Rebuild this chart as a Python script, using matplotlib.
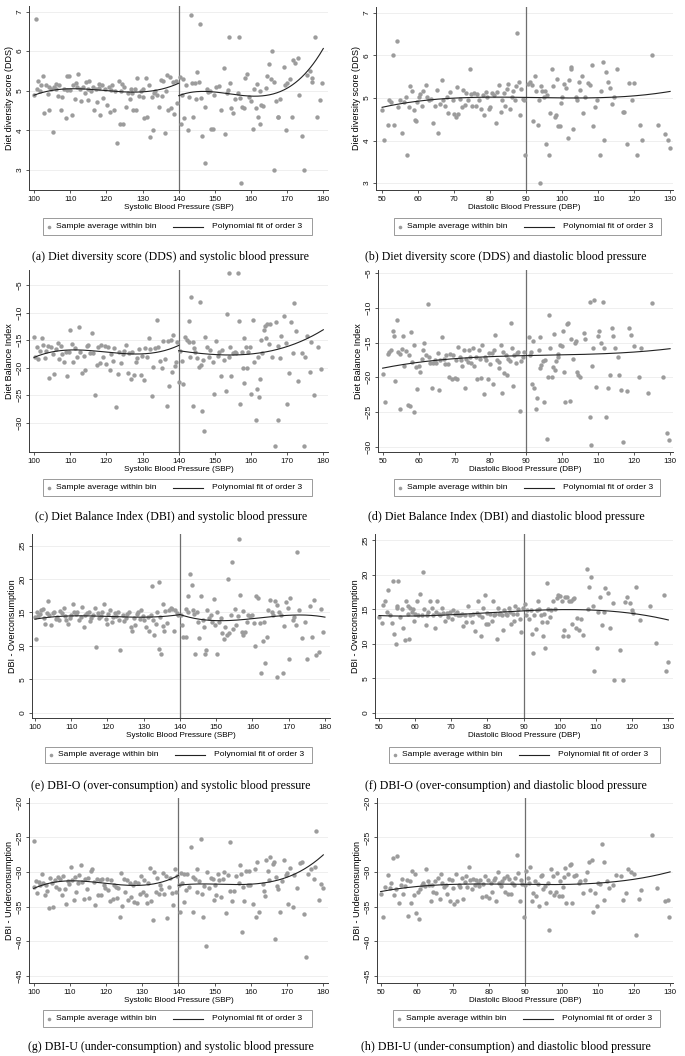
import numpy as np
import matplotlib
matplotlib.use("Agg")
import matplotlib.pyplot as plt
from matplotlib.lines import Line2D
from matplotlib.patches import Rectangle

plt.rcParams['font.family'] = ['Liberation Sans', 'DejaVu Sans']

# ---- bin averages: (blood pressure bin, outcome) ----
dds_sbp = [
    (100.0,4.90),(100.4,6.80),(100.8,5.05),(101.2,5.25),(101.6,5.00),(102.0,5.15),(102.5,5.37),(102.8,4.43),
    (103.4,5.15),(103.8,4.92),(104.0,5.10),(104.2,4.50),(104.6,5.05),(105.2,3.95),(105.6,5.10),(106.0,5.17),
    (106.2,5.05),(106.5,4.87),(107.0,5.15),(107.4,4.52),(107.8,4.85),(108.3,5.05),(108.7,4.32),(109.0,5.02),
    (109.2,5.38),(109.6,5.37),(110.0,5.02),(110.4,4.38),(110.8,5.15),(111.2,4.80),(111.7,5.20),(112.0,5.10),
    (112.2,5.42),(112.6,5.05),(113.0,4.75),(113.5,5.10),(114.0,4.95),(114.4,5.22),(114.8,4.77),(115.0,5.05),
    (115.3,5.25),(115.8,5.00),(116.2,5.10),(116.6,4.52),(117.0,5.05),(117.5,4.72),(117.9,5.17),(118.0,5.08),
    (118.3,4.38),(118.8,5.15),(119.2,4.82),(119.7,5.05),(120.1,4.65),(120.6,5.10),(121.0,4.45),(121.2,5.02),
    (121.5,5.15),(122.0,4.50),(122.4,5.00),(123.0,3.67),(123.4,5.25),(123.8,4.15),(124.0,4.98),(124.2,5.18),
    (124.6,4.17),(125.0,5.10),(125.5,4.60),(126.0,4.93),(126.4,4.80),(126.9,5.05),(127.0,4.95),(127.3,4.50),
    (127.8,5.05),(128.2,4.52),(128.6,5.32),(129.0,4.87),(129.5,5.00),(130.0,4.85),(130.2,5.05),(130.4,4.32),
    (130.9,5.32),(131.3,4.33),(131.8,5.15),(132.1,3.82),(132.5,4.83),(133.0,4.00),(133.2,4.95),(133.5,5.00),
    (134.0,4.90),(134.5,4.60),(135.0,5.27),(135.4,4.87),(135.8,5.25),(136.2,3.93),(136.5,5.00),(136.7,5.40),
    (137.1,4.52),(137.6,5.35),(138.0,4.55),(138.4,5.22),(138.8,4.42),(139.2,5.25),(139.6,4.68),
    (140.4,5.35),(140.6,4.15),(140.9,4.90),(141.2,5.30),(141.6,4.30),(142.1,5.15),(142.5,4.00),(142.8,4.85),
    (143.4,6.90),(143.8,5.20),(144.0,4.33),(144.4,5.20),(144.8,4.80),(145.1,5.48),(145.5,5.22),(146.0,6.68),
    (146.3,4.82),(146.5,3.85),(147.3,3.18),(147.4,4.60),(147.8,5.05),(148.2,4.97),(148.6,5.00),(148.9,4.02),
    (149.4,4.02),(149.7,4.88),(150.4,5.10),(151.1,5.12),(151.7,4.52),(152.4,5.57),(152.9,3.90),(153.4,4.95),
    (153.6,5.02),(154.0,6.35),(154.3,5.20),(154.6,4.55),(155.0,4.43),(155.7,4.78),(156.3,4.95),(156.6,6.35),
    (156.9,4.82),(157.3,2.67),(157.5,4.60),(158.0,4.55),(158.4,5.32),(158.9,5.43),(159.4,4.83),(160.0,4.75),
    (160.5,4.02),(160.9,5.05),(161.4,4.57),(161.7,5.18),(161.9,4.33),(162.4,4.17),(162.6,5.00),(162.9,4.65),
    (163.2,4.62),(164.1,5.06),(164.4,5.38),(164.9,5.67),(165.5,5.30),(165.8,6.00),(166.3,5.22),(166.5,3.00),
    (166.9,4.73),(167.4,4.33),(167.6,4.33),(168.1,4.78),(169.0,5.60),(169.5,5.15),(169.7,4.00),(170.0,5.20),
    (170.7,5.30),(171.3,4.33),(171.5,5.78),(172.1,5.70),(173.0,5.82),(173.4,4.90),(174.1,3.85),(174.7,3.00),
    (175.5,5.40),(176.4,5.50),(176.8,5.33),(177.0,5.22),(177.6,6.35),(178.2,4.33),(179.0,4.77),(179.6,5.20),
]

dds_dbp = [
    (50.0,4.71),(50.6,4.01),(51.5,4.36),(51.9,4.96),(52.4,4.90),(52.9,6.01),(53.3,4.37),(54.0,6.34),
    (54.4,4.79),(54.9,4.94),(55.4,4.18),(56.0,4.90),(56.6,5.03),(57.0,3.66),(57.4,4.79),(57.7,5.27),
    (58.2,5.17),(58.8,4.71),(59.1,4.49),(59.5,4.45),(59.8,4.90),(60.2,5.02),(60.5,5.10),(61.0,4.80),
    (61.4,5.17),(62.1,5.29),(62.5,5.02),(63.1,4.94),(63.7,4.98),(64.2,4.41),(64.8,4.80),(65.3,5.19),
    (65.6,4.18),(66.0,4.86),(66.5,5.41),(67.0,4.94),(67.5,4.80),(67.9,5.03),(68.4,4.65),(68.8,5.14),
    (69.6,4.94),(69.9,4.61),(70.5,4.55),(70.7,5.25),(71.1,4.61),(71.6,4.98),(72.2,4.79),(72.5,5.19),
    (73.0,4.83),(73.4,5.11),(73.9,4.94),(74.4,5.68),(74.8,5.10),(75.1,4.80),(75.6,5.11),(76.0,4.80),
    (76.4,5.10),(77.0,4.94),(77.4,4.75),(77.9,5.07),(78.4,4.59),(78.8,5.14),(79.2,5.02),(79.7,4.75),
    (80.1,4.79),(80.6,5.11),(81.0,5.06),(81.6,4.40),(82.0,5.14),(82.4,5.29),(83.0,4.67),(83.4,4.94),
    (83.8,5.11),(84.1,4.80),(84.6,5.21),(85.0,5.33),(85.5,4.75),(86.0,5.02),(86.4,5.17),(86.9,4.94),
    (87.2,5.27),(87.6,6.51),(88.1,5.37),(88.3,4.59),(88.7,5.21),(89.2,4.98),(89.5,4.94),(89.7,3.66),
    (90.6,5.33),(91.1,5.37),(91.5,5.29),(92.0,4.45),(92.4,5.52),(92.8,5.16),(93.2,4.36),(93.6,4.94),
    (93.8,3.00),(94.1,5.27),(94.5,5.17),(95.0,5.02),(95.2,5.17),(95.5,3.93),(95.9,5.06),(96.3,3.66),
    (96.6,4.65),(97.1,5.68),(97.5,5.27),(98.0,4.55),(98.3,4.59),(98.7,5.45),(98.9,4.34),(99.4,4.34),
    (99.7,4.88),(100.1,5.02),(100.5,5.33),(101.0,5.23),(101.5,4.06),(102.0,5.42),(102.4,5.68),(102.6,5.72),
    (103.1,4.28),(103.8,5.02),(104.2,4.94),(104.8,5.37),(105.1,5.19),(105.6,5.52),(105.9,4.65),(106.3,5.02),
    (107.1,5.35),(107.7,5.29),(108.4,5.76),(108.7,4.34),(109.1,4.79),(109.8,4.94),(110.5,3.66),(110.8,5.16),
    (111.4,5.85),(111.7,4.01),(112.1,5.60),(112.7,5.37),(113.3,5.23),(113.8,4.86),(114.4,5.02),(115.2,5.68),
    (116.8,4.67),(117.2,4.67),(117.9,3.93),(118.7,5.35),(119.3,4.94),(120.0,5.35),(120.7,3.66),(121.5,4.36),
    (122.1,4.01),(124.9,6.01),(126.7,4.36),(128.6,4.16),(129.3,4.01),(130.0,3.83),
]

dbi_sbp = [
    (100.0,-14.5),(100.3,-18.0),(100.8,-16.3),(101.2,-18.4),(101.6,-16.9),(102.1,-14.7),(102.5,-15.9),(102.9,-18.2),
    (103.4,-17.0),(103.8,-16.0),(104.2,-21.9),(104.7,-16.2),(105.1,-17.5),(105.6,-21.2),(106.0,-16.6),(106.5,-15.6),
    (106.9,-18.4),(107.4,-16.0),(107.8,-17.5),(108.3,-18.9),(108.7,-17.2),(109.1,-21.5),(109.6,-17.1),(110.0,-13.1),
    (110.5,-15.7),(110.9,-19.0),(111.3,-16.5),(111.8,-18.0),(112.4,-12.6),(112.8,-17.2),(113.3,-21.0),(113.7,-17.8),
    (114.2,-20.4),(114.6,-16.0),(115.0,-15.9),(115.5,-17.4),(116.0,-13.8),(116.4,-17.3),(116.8,-25.0),(117.3,-19.5),
    (117.7,-16.2),(118.2,-19.2),(118.6,-15.9),(119.1,-18.0),(119.5,-16.1),(120.0,-19.3),(120.4,-16.2),(120.9,-20.4),
    (121.3,-17.5),(121.8,-18.7),(122.2,-16.4),(122.8,-27.1),(123.2,-21.2),(123.6,-17.2),(124.1,-19.2),(124.5,-17.6),
    (125.0,-16.9),(125.4,-15.8),(125.9,-21.0),(126.3,-17.3),(126.8,-22.0),(127.2,-17.1),(127.7,-21.4),(128.1,-18.9),
    (128.6,-18.2),(129.0,-16.6),(129.5,-21.3),(129.9,-17.8),(130.4,-22.3),(130.8,-16.5),(131.3,-18.0),(131.7,-14.6),
    (132.1,-16.7),(132.6,-25.2),(133.0,-19.8),(133.5,-16.4),(134.0,-11.3),(134.4,-16.2),(134.8,-18.7),(135.3,-20.1),
    (135.8,-15.1),(136.2,-18.5),(136.7,-27.0),(137.0,-15.2),(137.4,-23.4),(137.8,-15.0),(138.2,-20.8),(138.5,-14.1),
    (138.9,-19.7),(139.3,-18.9),(139.6,-15.3),
    (140.1,-22.6),(140.5,-16.9),(140.9,-18.7),(141.2,-22.9),(141.8,-14.5),(142.3,-15.0),(142.8,-15.3),(142.9,-11.5),
    (143.0,-18.0),(143.4,-7.1),(143.9,-15.4),(144.0,-27.0),(144.3,-16.5),(144.6,-17.1),(145.1,-18.3),(145.5,-19.8),
    (145.8,-8.0),(146.2,-19.5),(146.5,-27.8),(146.7,-18.6),(147.1,-31.4),(147.4,-14.5),(147.8,-16.2),(148.3,-18.1),
    (148.8,-16.8),(149.4,-18.9),(149.9,-24.7),(150.4,-15.2),(150.8,-17.9),(151.1,-17.1),(151.7,-21.6),(152.1,-16.8),
    (152.6,-18.6),(153.0,-24.2),(153.5,-10.3),(153.9,-2.9),(154.0,-18.0),(154.3,-16.3),(154.6,-21.6),(155.0,-17.3),
    (155.5,-17.1),(155.9,-17.4),(156.3,-2.9),(156.7,-11.6),(157.0,-26.6),(157.5,-17.2),(157.8,-20.1),(158.0,-14.6),
    (158.2,-22.7),(158.5,-16.3),(158.9,-20.0),(159.2,-17.1),(159.6,-16.3),(160.0,-24.7),(160.5,-11.4),(160.8,-19.0),
    (161.5,-29.5),(161.6,-23.8),(161.9,-18.1),(162.2,-25.3),(162.5,-22.0),(162.8,-15.0),(163.0,-17.4),(163.6,-13.2),
    (163.9,-12.4),(164.2,-14.6),(164.5,-12.0),(164.9,-15.7),(165.3,-12.0),(165.8,-18.0),(166.7,-34.2),(167.0,-11.7),
    (167.4,-16.1),(167.6,-29.5),(167.9,-18.3),(168.3,-14.3),(169.2,-10.6),(169.6,-15.5),(170.0,-26.6),(170.6,-21.0),
    (171.0,-11.8),(171.5,-17.4),(172.0,-8.3),(172.5,-13.3),(173.1,-22.4),(174.2,-17.4),(174.7,-34.2),(175.0,-18.1),
    (175.4,-14.2),(176.2,-20.7),(176.6,-15.3),(177.5,-25.0),(178.4,-16.2),(179.4,-20.2),
]

dbi_dbp = [
    (50.0,-19.5),(50.7,-23.5),(51.5,-16.6),(51.9,-16.3),(52.3,-16.1),(52.9,-13.3),(53.1,-14.0),(53.5,-20.5),
    (54.0,-11.7),(54.4,-16.3),(54.7,-24.5),(54.9,-16.6),(55.4,-15.9),(55.7,-14.1),(56.0,-18.4),(56.6,-16.2),
    (57.0,-24.0),(57.4,-16.8),(57.5,-24.1),(58.0,-13.5),(58.3,-17.8),(58.6,-15.3),(58.8,-25.0),(59.3,-18.5),
    (59.5,-21.7),(60.0,-18.3),(60.5,-19.3),(60.9,-17.3),(61.2,-16.0),(61.6,-15.1),(62.1,-16.8),(62.5,-9.4),
    (62.8,-17.0),(63.3,-18.0),(63.6,-21.6),(64.0,-18.0),(64.5,-17.5),(64.9,-18.0),(65.3,-16.5),(65.7,-21.8),
    (66.0,-17.5),(66.5,-14.2),(67.0,-17.3),(67.4,-18.1),(67.7,-16.8),(68.1,-18.1),(68.4,-19.9),(68.8,-16.6),
    (69.3,-20.3),(69.6,-16.8),(70.0,-20.1),(70.5,-17.5),(70.7,-20.2),(71.1,-15.6),(71.4,-17.0),(71.8,-17.5),
    (72.2,-18.4),(72.5,-16.0),(72.8,-21.5),(73.3,-17.3),(73.7,-17.8),(74.1,-16.0),(74.4,-17.0),(74.7,-18.0),
    (75.0,-15.8),(75.5,-18.4),(76.0,-17.0),(76.2,-20.2),(76.7,-16.0),(77.0,-17.3),(77.3,-20.1),(77.7,-15.3),
    (78.1,-22.4),(78.5,-17.0),(78.8,-17.5),(79.2,-20.2),(79.6,-16.5),(79.9,-18.1),(80.3,-16.5),(80.7,-21.0),
    (81.0,-16.0),(81.3,-13.9),(81.8,-17.5),(82.3,-18.7),(82.5,-17.8),(82.9,-15.3),(83.2,-22.2),(83.5,-16.3),
    (83.8,-19.4),(84.2,-16.8),(84.6,-19.7),(84.9,-17.3),(85.3,-17.6),(85.7,-12.2),(86.0,-15.8),(86.2,-21.3),
    (86.6,-16.8),(87.1,-18.0),(87.3,-16.5),(87.8,-16.4),(88.3,-24.9),(88.6,-17.7),(89.0,-17.1),(89.2,-16.3),
    (90.6,-14.2),(90.9,-16.8),(91.3,-16.4),(91.5,-21.0),(91.8,-14.7),(92.2,-21.6),(92.7,-24.6),(92.9,-23.0),
    (93.4,-16.0),(93.7,-14.2),(93.8,-18.6),(94.2,-18.2),(94.6,-17.7),(95.0,-23.5),(95.2,-17.5),(95.7,-28.9),
    (95.9,-19.9),(96.3,-11.0),(96.6,-15.8),(97.1,-19.9),(97.4,-18.5),(97.7,-13.8),(98.0,-18.9),(98.3,-17.6),
    (98.7,-17.1),(98.9,-16.6),(99.4,-15.4),(99.9,-15.5),(100.3,-13.3),(100.6,-19.2),(100.8,-23.5),(101.3,-12.3),
    (101.5,-12.2),(102.2,-23.4),(102.5,-14.4),(102.9,-17.3),(103.4,-15.0),(103.8,-14.8),(104.2,-19.3),(104.5,-19.7),
    (105.0,-20.0),(105.9,-13.6),(106.4,-14.4),(107.6,-9.2),(107.7,-25.7),(107.9,-29.7),(108.2,-18.3),(108.5,-15.8),
    (108.9,-8.9),(109.4,-21.4),(109.8,-14.1),(110.1,-13.3),(110.8,-15.0),(111.3,-9.1),(111.6,-15.8),(112.1,-25.7),
    (112.8,-21.6),(113.3,-19.6),(113.8,-12.9),(114.2,-14.0),(114.7,-15.8),(115.4,-17.1),(115.9,-19.6),(116.4,-21.8),
    (117.0,-29.3),(118.1,-22.0),(118.6,-12.9),(119.2,-13.9),(120.0,-15.5),(121.2,-20.0),(121.8,-15.7),(123.8,-22.3),
    (124.9,-9.3),(128.1,-20.0),(129.0,-28.0),(129.8,-29.1),
]

dbio_sbp = [
    (100.0,14.3),(100.2,11.1),(100.5,15.1),(100.9,14.5),(101.3,14.8),(101.7,15.3),(102.1,15.5),(102.5,14.1),
    (102.9,13.2),(103.3,14.9),(103.6,16.7),(104.0,14.6),(104.5,13.1),(104.9,14.9),(105.3,15.1),(105.8,14.0),
    (106.2,14.3),(106.6,13.8),(107.0,15.2),(107.4,14.9),(107.9,15.7),(108.3,14.4),(108.7,13.8),(109.1,13.3),
    (109.6,14.1),(110.0,14.6),(110.4,16.2),(110.9,15.1),(111.3,14.8),(111.7,15.0),(112.2,13.9),(112.6,14.3),
    (113.0,15.8),(113.5,12.8),(113.9,14.6),(114.3,14.9),(114.8,15.1),(115.2,13.7),(115.6,14.1),(116.0,14.6),
    (116.5,15.7),(116.9,9.8),(117.3,14.9),(117.7,14.2),(118.2,14.5),(118.6,15.0),(119.0,16.3),(119.5,14.0),
    (119.9,13.2),(120.3,14.8),(120.8,15.3),(121.2,13.6),(121.6,14.3),(122.1,14.9),(122.5,14.4),(122.9,15.0),
    (123.3,13.9),(123.6,9.4),(124.2,14.6),(124.6,13.7),(125.1,14.1),(125.5,14.8),(125.9,15.1),(126.4,12.9),
    (126.8,12.3),(127.2,14.2),(127.7,13.1),(128.1,14.7),(128.5,15.1),(128.9,14.0),(129.4,15.3),(129.8,14.5),
    (130.2,13.9),(130.7,12.8),(131.1,14.3),(131.5,12.3),(132.0,14.6),(132.2,18.9),(132.6,13.8),(132.9,11.7),
    (133.4,13.2),(133.8,15.0),(134.2,19.6),(134.3,9.5),(134.6,14.3),(134.9,8.8),(135.2,13.0),(135.4,16.3),
    (135.6,12.3),(136.0,15.2),(136.5,13.4),(137.0,15.3),(137.5,15.7),(137.9,15.5),(138.3,12.3),(138.7,15.3),
    (139.2,14.9),(139.6,14.6),
    (140.2,14.6),(140.5,13.1),(140.9,11.4),(141.6,11.4),(141.8,15.5),(142.1,17.4),(142.3,15.1),(142.8,20.7),
    (143.2,19.1),(143.5,15.3),(143.9,14.8),(144.1,8.8),(144.6,15.0),(145.1,13.6),(145.3,11.2),(145.8,17.4),
    (146.3,13.8),(146.6,12.9),(146.9,8.8),(147.2,9.4),(147.5,15.4),(148.0,14.1),(148.5,14.6),(148.9,13.6),
    (149.4,17.0),(149.7,13.1),(150.1,8.8),(150.3,15.0),(150.9,13.6),(151.2,14.1),(151.7,11.9),(152.1,11.1),
    (152.4,12.9),(152.9,11.6),(153.3,20.0),(153.6,11.9),(154.0,14.6),(154.3,22.6),(154.7,12.5),(155.2,15.5),
    (155.6,13.1),(156.1,14.5),(156.4,26.0),(156.7,17.6),(157.0,12.1),(157.3,11.6),(157.5,15.2),(157.9,12.1),
    (158.4,13.6),(158.9,14.6),(159.3,14.5),(159.8,14.6),(160.3,13.4),(160.7,10.0),(161.1,17.4),(161.6,17.1),
    (162.0,13.4),(162.3,6.0),(162.8,10.8),(163.1,13.5),(163.4,7.4),(163.9,11.4),(164.3,15.4),(164.8,16.8),
    (165.3,15.0),(165.7,14.6),(166.2,16.7),(166.7,5.4),(166.9,16.1),(167.4,15.0),(167.9,14.6),(168.3,6.0),
    (168.7,13.0),(169.2,16.5),(169.7,15.7),(170.1,8.1),(170.5,17.2),(171.1,13.8),(171.4,14.3),(171.9,13.1),
    (172.4,24.0),(172.9,15.3),(173.6,11.2),(174.5,13.5),(175.1,8.1),(175.9,16.0),(176.5,11.4),(177.1,16.9),
    (177.5,8.7),(178.3,9.1),(178.9,15.5),(179.5,12.1),
]

dbio_dbp = [
    (50.0,13.8),(50.7,13.0),(51.2,15.6),(51.7,16.1),(52.1,14.6),(52.6,17.7),(53.0,14.1),(53.5,13.0),
    (54.0,19.1),(54.2,11.4),(54.6,10.0),(54.9,15.4),(55.1,15.1),(55.3,19.1),(55.8,13.8),(56.3,15.0),
    (56.7,12.3),(57.2,10.5),(57.5,16.2),(57.9,15.4),(58.1,14.3),(58.4,10.7),(58.6,15.1),(59.0,14.6),
    (59.3,15.0),(59.7,13.3),(60.0,14.3),(60.4,16.2),(60.9,14.1),(61.3,17.2),(61.8,14.1),(62.1,20.4),
    (62.4,15.0),(62.9,12.7),(63.4,14.1),(63.6,14.6),(64.1,16.2),(64.6,15.1),(65.0,14.1),(65.5,12.3),
    (65.9,14.6),(66.1,16.2),(66.6,14.3),(66.9,14.2),(67.3,15.1),(67.8,14.4),(68.2,13.3),(68.7,14.5),
    (69.2,13.8),(69.6,14.6),(70.1,13.6),(70.6,14.8),(71.0,14.3),(71.5,14.6),(71.9,14.1),(72.4,14.2),
    (72.9,14.3),(73.3,12.6),(73.8,14.2),(74.2,13.1),(74.7,15.4),(75.2,14.1),(75.6,13.2),(76.1,14.3),
    (76.5,11.8),(77.0,14.5),(77.5,16.1),(77.7,14.1),(78.1,11.1),(78.4,13.8),(78.8,15.1),(79.3,17.1),
    (79.6,12.9),(80.0,14.5),(80.2,12.9),(80.7,14.3),(81.2,13.3),(81.4,16.1),(81.8,14.1),(82.1,14.3),
    (82.5,10.7),(83.0,15.1),(83.3,14.3),(83.6,14.4),(84.1,14.2),(84.4,12.0),(84.7,14.8),(85.1,14.3),
    (85.5,14.2),(85.9,15.1),(86.2,14.6),(86.6,12.9),(87.0,14.3),(87.3,13.3),(87.7,15.4),(88.1,14.3),
    (88.5,15.0),(89.0,13.6),(89.4,11.7),(89.7,15.1),
    (90.4,15.8),(90.6,14.2),(91.0,14.8),(91.6,13.5),(91.9,14.9),(92.3,11.4),(92.7,8.7),(92.9,14.2),
    (93.3,12.1),(93.6,14.9),(94.1,16.2),(94.3,15.0),(94.7,14.2),(95.0,13.2),(95.4,11.1),(95.6,14.3),
    (95.9,9.4),(96.4,13.1),(96.5,18.8),(96.8,15.0),(97.3,13.8),(97.7,14.8),(98.2,16.1),(98.7,15.0),
    (99.1,16.6),(99.6,17.0),(100.0,16.9),(100.5,16.2),(100.8,11.1),(101.2,12.0),(101.4,16.8),(101.9,16.8),
    (102.3,11.1),(102.6,16.2),(103.0,16.2),(103.3,12.9),(103.7,16.5),(104.0,16.6),(104.4,12.2),(104.7,13.7),
    (105.4,12.0),(105.8,13.6),(106.5,11.2),(107.4,20.8),(107.9,15.0),(108.2,18.2),(108.6,19.6),(109.1,15.5),
    (109.4,6.0),(110.2,9.3),(110.6,14.6),(111.1,16.7),(111.8,12.7),(112.3,14.6),(112.5,18.0),(113.2,17.4),
    (113.9,12.3),(114.6,15.9),(115.0,4.8),(116.6,9.1),(117.4,4.8),(118.0,16.0),(118.7,16.7),(119.4,15.9),
    (120.0,14.9),(120.3,14.5),(121.2,18.2),(122.2,13.4),(124.9,15.4),(126.6,10.1),(128.7,17.0),(129.3,6.0),
    (130.0,7.4),
]

dbiu_sbp = [
    (100.0,-32.2),(100.2,-25.5),(100.6,-31.3),(101.0,-33.0),(101.4,-31.4),(101.8,-31.8),(102.2,-30.2),(102.6,-31.5),
    (103.0,-33.3),(103.4,-31.9),(103.8,-32.7),(104.2,-35.2),(104.6,-30.9),(105.0,-31.6),(105.4,-35.0),(105.8,-31.1),
    (106.2,-32.1),(106.6,-30.7),(107.0,-32.4),(107.4,-31.0),(107.8,-33.3),(108.2,-30.6),(108.6,-32.4),(109.0,-34.6),
    (109.4,-31.3),(109.8,-31.7),(110.2,-29.3),(110.6,-31.1),(111.0,-34.0),(111.4,-30.7),(111.8,-32.9),(112.2,-31.6),
    (112.6,-30.4),(113.0,-29.0),(113.4,-31.4),(113.8,-33.9),(114.2,-31.0),(114.6,-32.5),(115.0,-30.9),(115.4,-33.7),
    (115.8,-29.9),(116.2,-29.6),(116.6,-31.4),(117.0,-34.7),(117.4,-31.0),(117.8,-33.3),(118.2,-31.2),(118.6,-33.3),
    (119.0,-31.0),(119.4,-31.8),(119.8,-32.3),(120.2,-31.0),(120.6,-32.6),(121.0,-34.2),(121.4,-31.1),(121.8,-33.9),
    (122.2,-31.8),(122.6,-32.1),(123.0,-33.8),(123.4,-32.3),(123.8,-36.5),(124.1,-30.1),(124.5,-34.9),(124.9,-31.0),
    (125.3,-32.8),(125.7,-31.2),(126.1,-34.0),(126.5,-31.5),(126.9,-33.6),(127.3,-31.8),(127.7,-34.3),(128.1,-31.4),
    (128.5,-34.4),(128.9,-31.6),(129.3,-33.1),(129.7,-30.6),(130.1,-32.9),(130.5,-31.2),(130.9,-33.3),(131.3,-34.5),
    (131.7,-31.6),(132.1,-29.4),(132.5,-34.1),(132.9,-36.9),(133.3,-30.0),(133.7,-32.9),(134.1,-30.8),(134.5,-33.1),
    (134.9,-31.9),(135.3,-32.4),(135.7,-30.1),(136.1,-33.2),(136.5,-30.6),(136.9,-36.6),(137.3,-32.1),(137.7,-30.8),
    (138.1,-33.0),(138.5,-34.8),(138.9,-29.5),(139.3,-32.9),(139.7,-30.6),
    (140.2,-31.8),(140.3,-35.7),(140.6,-30.1),(140.9,-31.5),(141.4,-30.3),(141.6,-34.3),(142.0,-32.6),(142.3,-30.3),
    (142.8,-32.1),(143.4,-26.4),(144.0,-35.7),(144.1,-30.7),(144.6,-31.0),(145.0,-29.5),(145.2,-32.8),(145.7,-31.3),
    (146.2,-25.2),(146.5,-33.1),(146.9,-36.5),(147.1,-32.0),(147.6,-40.6),(148.0,-30.0),(148.5,-32.3),(148.9,-30.8),
    (149.4,-31.0),(149.7,-34.0),(150.0,-31.8),(150.4,-33.3),(150.8,-30.2),(151.3,-31.2),(151.8,-33.6),(152.3,-31.0),
    (152.7,-30.0),(153.1,-35.9),(153.6,-30.4),(154.1,-32.7),(154.3,-25.7),(154.7,-34.2),(155.2,-32.7),(155.9,-30.6),
    (156.6,-31.6),(157.1,-28.9),(157.3,-30.2),(157.5,-38.7),(157.8,-32.2),(158.2,-34.2),(158.7,-29.8),(159.2,-31.9),
    (159.4,-29.8),(159.8,-31.8),(160.5,-34.6),(161.2,-29.6),(161.5,-36.5),(161.8,-28.6),(162.3,-35.7),(163.3,-31.7),
    (163.5,-32.7),(164.0,-33.4),(164.1,-28.2),(164.7,-29.8),(164.9,-31.2),(165.2,-27.8),(166.0,-28.8),(166.3,-28.6),
    (166.6,-39.6),(166.8,-30.7),(167.2,-32.0),(167.6,-32.4),(168.1,-35.7),(168.6,-31.3),(169.2,-28.2),(169.7,-30.4),
    (170.1,-30.1),(170.2,-34.6),(170.9,-29.4),(171.5,-35.0),(172.0,-30.4),(172.7,-32.3),(173.5,-28.7),(174.1,-28.5),
    (174.6,-36.0),(175.2,-42.3),(175.9,-30.3),(176.7,-29.5),(177.3,-31.0),(177.8,-29.3),(178.0,-24.0),(178.7,-34.0),
    (179.4,-31.7),(179.8,-32.3),
]

dbiu_dbp = [
    (50.0,-33.1),(50.6,-36.5),(51.3,-32.2),(52.0,-30.4),(52.5,-32.3),(53.0,-31.5),(53.3,-28.0),(53.8,-33.3),
    (54.2,-32.5),(54.5,-27.7),(55.0,-34.4),(55.5,-31.9),(56.0,-31.0),(56.3,-33.2),(56.7,-32.0),(57.3,-31.1),
    (57.6,-36.4),(58.0,-31.3),(58.4,-34.5),(58.7,-29.8),(59.1,-33.3),(59.5,-30.3),(59.8,-35.9),(60.2,-32.8),
    (60.5,-36.7),(61.0,-32.5),(61.4,-31.8),(61.8,-31.5),(62.2,-32.0),(62.6,-29.6),(63.0,-31.3),(63.4,-31.8),
    (63.8,-34.2),(64.2,-31.9),(64.6,-32.9),(65.0,-31.3),(65.4,-33.0),(65.8,-30.8),(66.3,-33.9),(66.7,-30.2),
    (67.1,-31.5),(67.5,-32.2),(68.0,-31.9),(68.4,-33.2),(68.8,-31.0),(69.2,-34.1),(69.6,-31.2),(70.0,-32.3),
    (70.4,-34.6),(70.8,-30.3),(71.2,-34.2),(71.6,-31.8),(72.0,-32.1),(72.4,-30.9),(72.8,-33.9),(73.2,-31.4),
    (73.6,-30.5),(74.0,-32.2),(74.4,-29.2),(74.8,-31.1),(75.2,-32.4),(75.6,-31.0),(76.0,-31.8),(76.4,-31.2),
    (76.8,-31.5),(77.2,-32.0),(77.6,-31.1),(78.0,-33.6),(78.4,-31.7),(78.8,-30.5),(79.2,-33.4),(79.6,-31.2),
    (80.0,-33.7),(80.4,-31.5),(80.8,-32.9),(81.2,-31.1),(81.6,-30.9),(82.0,-34.2),(82.4,-30.0),(82.8,-31.6),
    (83.2,-32.0),(83.6,-31.3),(84.0,-30.9),(84.4,-32.8),(84.8,-30.6),(85.2,-33.1),(85.6,-31.0),(86.0,-33.2),
    (86.4,-31.5),(86.8,-31.8),(87.2,-30.9),(87.6,-27.5),(88.0,-30.1),(88.4,-34.1),(88.8,-31.2),(89.2,-31.7),
    (89.6,-36.5),(89.8,-31.8),
    (90.3,-29.9),(90.6,-30.9),(91.0,-31.6),(91.4,-29.2),(91.8,-34.1),(92.2,-33.0),(92.6,-31.3),(93.0,-33.4),
    (93.4,-31.7),(93.8,-34.9),(94.2,-30.6),(94.6,-30.4),(95.0,-32.4),(95.4,-32.0),(95.8,-34.4),(96.2,-31.6),
    (96.5,-38.3),(96.8,-32.8),(97.2,-29.6),(97.6,-30.5),(98.0,-33.3),(98.4,-32.9),(98.8,-30.1),(99.2,-33.4),
    (99.6,-31.3),(100.0,-33.5),(100.4,-32.2),(100.8,-30.7),(101.0,-29.4),(101.2,-34.5),(101.7,-30.3),(102.2,-28.9),
    (102.5,-28.8),(103.0,-34.4),(103.5,-30.6),(104.0,-30.4),(104.7,-31.5),(105.1,-31.3),(105.9,-33.0),(106.5,-31.1),
    (107.1,-30.0),(107.7,-28.6),(107.9,-32.6),(108.5,-28.3),(108.8,-35.7),(109.3,-33.0),(109.7,-34.9),(110.2,-31.6),
    (110.6,-31.7),(111.2,-26.0),(111.6,-34.0),(111.8,-28.5),(112.5,-31.3),(113.2,-32.3),(114.3,-31.8),(115.0,-30.4),
    (116.5,-30.6),(117.1,-34.0),(117.7,-33.0),(118.5,-29.6),(119.1,-30.0),(119.9,-30.3),(120.5,-39.1),(121.3,-33.9),
    (122.0,-32.6),(124.9,-24.6),(126.5,-32.3),(128.6,-34.1),(129.3,-34.0),(129.8,-36.5),
]

# ---- values of the drawn order-3 fit lines ----
dds_sbp_fit = [[(100,4.89),(105,5.00),(110,5.05),(115,5.04),(120,5.00),(125,4.97),(130,4.97),(135,5.03),(140,5.19)],
               [(140,4.88),(145,4.96),(150,4.97),(155,4.92),(160,4.86),(165,4.88),(170,5.08),(175,5.42),(180,6.07)]]
dds_dbp_fit = [[(50,4.80),(60,4.90),(70,4.97),(80,5.01),(90,5.03),(100,5.06),(110,5.01),(118,4.96),(125,5.05),(130,5.21)]]
dbi_sbp_fit = [[(100,-18.1),(105,-17.2),(110,-16.8),(115,-16.9),(120,-17.1),(125,-17.4),(130,-17.5),(135,-17.2),(140,-15.9)],
               [(140,-16.9),(145,-17.4),(150,-17.6),(155,-17.7),(160,-17.5),(165,-17.0),(170,-16.2),(175,-14.9),(180,-13.1)]]
dbi_dbp_fit = [[(50,-18.7),(60,-17.8),(70,-17.3),(80,-17.0),(90,-16.9),(100,-16.8),(110,-16.6),(120,-16.3),(130,-15.9)]]
dbio_sbp_fit = [[(100,14.0),(105,14.35),(110,14.45),(120,14.45),(130,14.3),(135,14.35),(140,14.7)],
                [(140,14.7),(145,14.0),(150,13.8),(155,13.85),(160,14.05),(165,14.35),(170,14.6),(175,14.6),(180,14.3)]]
dbio_dbp_fit = [[(50,13.9),(60,14.2),(70,14.35),(80,14.45),(90,14.5),(100,14.7),(110,14.85),(115,14.9),(120,14.6),(125,14.0),(130,13.2)]]
dbiu_sbp_fit = [[(100,-32.3),(105,-31.6),(110,-31.3),(120,-31.5),(130,-31.9),(135,-31.6),(140,-30.4)],
                [(140,-31.9),(150,-31.7),(160,-31.8),(165,-31.4),(170,-30.7),(175,-29.5),(180,-27.5)]]
dbiu_dbp_fit = [[(50,-32.7),(60,-32.2),(70,-31.9),(80,-31.7),(90,-31.6),(100,-31.6),(110,-31.7),(120,-31.3),(130,-29.8)]]

sbp_ticks = [100, 110, 120, 130, 140, 150, 160, 170, 180]
dbp_ticks = [50, 60, 70, 80, 90, 100, 110, 120, 130]

W, H = 685, 1056
fig = plt.figure(figsize=(W / 100, H / 100), dpi=100)

DOT = '#9c9c9c'
INK = '#3a3a3a'
FIT = '#222222'


def px_axes(l, t, r, b):
    return fig.add_axes([l / W, 1 - b / H, (r - l) / W, (b - t) / H])


def draw_legend(l, t, r, b):
    fig.add_artist(Rectangle((l / W, 1 - b / H), (r - l) / W, (b - t) / H,
                             transform=fig.transFigure, fill=False, ec='#8a8a8a', lw=0.6))
    yc = 1 - (t + b) / 2 / H
    fig.add_artist(Line2D([(l + 6) / W], [yc], marker='o', ms=2.6, color=DOT, mec='none',
                          ls='none', transform=fig.transFigure))
    fig.text((l + 13) / W, yc, 'Sample average within bin', va='center', fontsize=6.1)
    fig.add_artist(Line2D([(l + 130) / W, (l + 160) / W], [yc, yc], color=FIT, lw=0.8,
                          transform=fig.transFigure))
    fig.text((l + 169) / W, yc, 'Polynomial fit of order 3', va='center', fontsize=6.1)


def panel(box, data, fits, cut, xticks, xlim, ylim, yticks, ylabel, xlabel,
          leg_box, caption, cap_x, cap_y):
    ax = px_axes(*box)
    pts = np.array(data)
    ax.scatter(pts[:, 0], pts[:, 1], s=10, color=DOT, linewidths=0, zorder=2)

    # cubic fit line(s), one per side of the cut-off where the figure has a break
    for seg in fits:
        f = np.array(seg, dtype=float)
        c = np.polyfit(f[:, 0], f[:, 1], 3)
        xs = np.linspace(f[0, 0], f[-1, 0], 200)
        ax.plot(xs, np.polyval(c, xs), color=FIT, lw=0.8, zorder=3)

    ax.axvline(cut, color='#6e6e6e', lw=0.9, zorder=1)

    ax.set_xlim(*xlim)
    ax.set_ylim(*ylim)
    ax.set_xticks(xticks)
    ax.set_yticks(yticks)
    ax.yaxis.grid(True, color='#ececec', lw=0.6)
    ax.set_axisbelow(True)
    for s in ['top', 'right']:
        ax.spines[s].set_visible(False)
    for s in ['left', 'bottom']:
        ax.spines[s].set_color(INK)
        ax.spines[s].set_linewidth(0.7)
    ax.tick_params(direction='out', length=2.5, width=0.6, color=INK,
                   labelsize=5.7, pad=1.5, labelcolor='#111111')
    ax.tick_params(axis='y', labelsize=6.0)
    for lab in ax.get_yticklabels():
        lab.set_rotation(90)
        lab.set_va('center')
    ax.set_ylabel(ylabel, fontsize=6.5, labelpad=1.5)
    ax.set_xlabel(xlabel, fontsize=5.9, labelpad=1)

    draw_legend(*leg_box)
    fig.text(cap_x / W, 1 - cap_y / H, caption, ha='center', va='center',
             fontsize=8.6, family=['Liberation Serif', 'DejaVu Serif'])
    return ax


panel((29, 6, 328, 190), dds_sbp, dds_sbp_fit, 140, sbp_ticks, (98.6, 181.3), (2.49, 7.14),
      [3, 4, 5, 6, 7], 'Diet diversity score (DDS)', 'Systolic Blood Pressure (SBP)',
      (43, 218, 312, 235), '(a) Diet diversity score (DDS) and systolic blood pressure', 171, 257)
panel((376, 7, 673, 190), dds_dbp, dds_dbp_fit, 90, dbp_ticks, (48.3, 130.8), (2.84, 7.13),
      [3, 4, 5, 6, 7], 'Diet diversity score (DDS)', 'Diastolic Blood Pressure (DBP)',
      (394, 218, 661, 235), '(b) Diet diversity score (DDS) and diastolic blood pressure', 506, 257)

panel((29, 270, 328, 452), dbi_sbp, dbi_sbp_fit, 140, sbp_ticks, (98.6, 181.3), (-35.3, -2.28),
      [-30, -25, -20, -15, -10, -5], 'Diet Balance Index', 'Systolic Blood Pressure (SBP)',
      (43, 479, 312, 496), '(c) Diet Balance Index (DBI) and systolic blood pressure', 171, 517)
panel((378, 270, 673, 452), dbi_dbp, dbi_dbp_fit, 90, dbp_ticks, (48.7, 130.8), (-30.77, -4.52),
      [-30, -25, -20, -15, -10, -5], 'Diet Balance Index', 'Diastolic Blood Pressure (DBP)',
      (394, 479, 660, 496), '(d) Diet Balance Index (DBI) and diastolic blood pressure', 506, 517)

panel((32, 534, 330, 718), dbio_sbp, dbio_sbp_fit, 140, sbp_ticks, (99.2, 181.4), (-0.8, 26.75),
      [0, 5, 10, 15, 20, 25], 'DBI - Overconsumption', 'Systolic Blood Pressure (SBP)',
      (45, 747, 312, 763), '(e) DBI-O (over-consumption) and systolic blood pressure', 171, 786)
panel((375, 534, 673, 718), dbio_dbp, dbio_dbp_fit, 90, dbp_ticks, (48.9, 131.3), (-0.77, 25.87),
      [0, 5, 10, 15, 20, 25], 'DBI - Overconsumption', 'Diastolic Blood Pressure (DBP)',
      (389, 747, 660, 763), '(f) DBI-O (over-consumption) and diastolic blood pressure', 506, 786)

panel((29, 798, 328, 983), dbiu_sbp, dbiu_sbp_fit, 140, sbp_ticks, (98.7, 181.3), (-46.0, -19.3),
      [-45, -40, -35, -30, -25, -20], 'DBI - Underconsumption', 'Systolic Blood Pressure (SBP)',
      (43, 1010, 312, 1027), '(g) DBI-U (under-consumption) and systolic blood pressure', 171, 1047)
panel((377, 798, 673, 983), dbiu_dbp, dbiu_dbp_fit, 90, dbp_ticks, (49.0, 130.8), (-46.0, -19.3),
      [-45, -40, -35, -30, -25, -20], 'DBI - Underconsumption', 'Diastolic Blood Pressure (DBP)',
      (393, 1010, 660, 1027), '(h) DBI-U (under-consumption) and diastolic blood pressure', 506, 1047)

fig.savefig('out.png', dpi=100)
